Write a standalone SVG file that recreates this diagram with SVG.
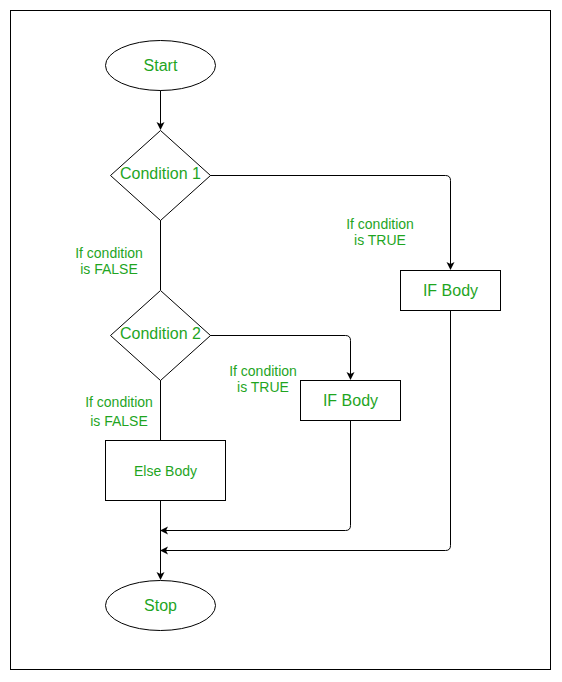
<svg xmlns="http://www.w3.org/2000/svg" width="562" height="682" viewBox="0 0 562 682">
<style>
.s{fill:#fff;stroke:#000;stroke-width:1}
.t{font-family:"Liberation Sans",Arial,sans-serif;fill:#1fa51f;text-anchor:middle}
.m{font-size:16px}
.l{font-size:14px}
.c{fill:none;stroke:#000;stroke-width:1}
</style>
<defs>
<marker id="a" markerWidth="10" markerHeight="10" refX="7" refY="4" orient="auto" markerUnits="userSpaceOnUse">
<path d="M0,0 L8,4 L0,8 L2,4 Z" fill="#000"/>
</marker>
</defs>
<rect x="10.5" y="10.5" width="540" height="659" fill="#fff" stroke="#000"/>
<g id="connectors">
<path class="c" d="M160.5,90 V129" marker-end="url(#a)"/>
<path class="c" d="M210,175.5 H445.5 Q450.5,175.5 450.5,180.5 V269" marker-end="url(#a)"/>
<path class="c" d="M160.5,220 V290"/>
<path class="c" d="M210,335.5 H345.5 Q350.5,335.5 350.5,340.5 V379" marker-end="url(#a)"/>
<path class="c" d="M160.5,380 V440"/>
<path class="c" d="M160.5,500 V579" marker-end="url(#a)"/>
<path class="c" d="M350.5,420 V525.5 Q350.5,530.5 345.5,530.5 H161" marker-end="url(#a)"/>
<path class="c" d="M450.5,310 V545.5 Q450.5,550.5 445.5,550.5 H161" marker-end="url(#a)"/>
</g>
<g id="labels">
<text class="t l" x="109" y="258">If condition</text>
<text class="t l" x="109" y="274">is FALSE</text>
<text class="t l" x="380" y="229">If condition</text>
<text class="t l" x="380" y="245">is TRUE</text>
<text class="t l" x="263" y="376">If condition</text>
<text class="t l" x="263" y="392">is TRUE</text>
<text class="t l" x="119" y="407">If condition</text>
<text class="t l" x="119" y="426">is FALSE</text>
</g>
<g id="start">
<ellipse class="s" cx="160.5" cy="65.5" rx="55" ry="25"/>
<text class="t m" x="160.5" y="71">Start</text>
</g>
<g id="cond1">
<path class="s" d="M160.5,130.5 L210.5,175.5 L160.5,220.5 L110.5,175.5 Z"/>
<text class="t m" x="160.5" y="179">Condition 1</text>
</g>
<g id="ifbody1">
<rect class="s" x="400.5" y="270.5" width="100" height="40"/>
<text class="t m" x="450.5" y="296">IF Body</text>
</g>
<g id="cond2">
<path class="s" d="M160.5,290.5 L210.5,335.5 L160.5,380.5 L110.5,335.5 Z"/>
<text class="t m" x="160.5" y="339">Condition 2</text>
</g>
<g id="ifbody2">
<rect class="s" x="300.5" y="380.5" width="100" height="40"/>
<text class="t m" x="350.5" y="406">IF Body</text>
</g>
<g id="elsebody">
<rect class="s" x="105.5" y="440.5" width="120" height="60"/>
<text class="t l" x="165.5" y="476">Else Body</text>
</g>
<g id="stop">
<ellipse class="s" cx="160.5" cy="605.5" rx="55" ry="25"/>
<text class="t m" x="160.5" y="611">Stop</text>
</g>
</svg>
